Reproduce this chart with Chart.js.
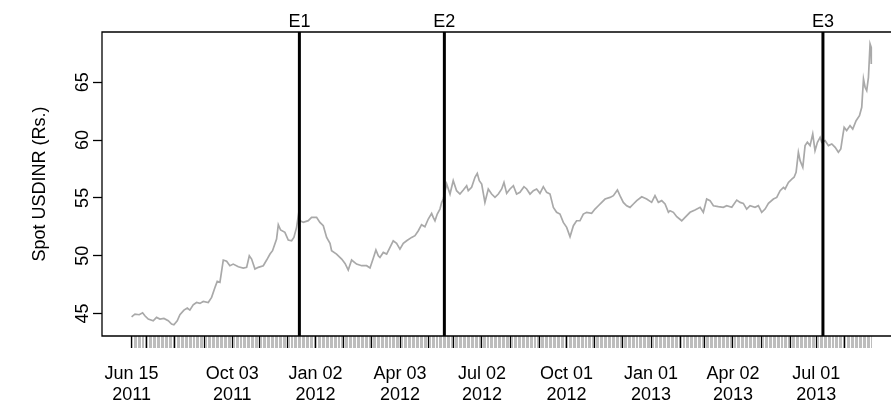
<!DOCTYPE html>
<html lang="en">
  <head>
    <meta charset="UTF-8" />
    <script src="https://cdn.jsdelivr.net/npm/chart.js@4.4.0/dist/chart.umd.min.js"></script>
    <title>USDINR spot</title>
    <style>
      body {
        margin: 0;
        padding: 0;
        background: #fff;
      }
      .wrap {
        position: relative;
        width: 891px;
        height: 408px;
      }
    </style>
  </head>
  <body>
    <div class="wrap">
      <canvas id="spotChart"></canvas>
    </div>
    <script>
      const obsIndex = [
        0, 2.5, 5.7, 8.2, 9.9, 12.4, 16.1, 18.6, 21.1, 24.1, 27.3, 29.8, 31.5, 34.0, 36.0, 39.0,
        41.5, 43.4, 45.9, 48.4, 50.9, 53.4, 57.1, 59.6, 62.1, 63.8, 65.8, 68.3, 70.8, 73.2, 75.7,
        79.5, 83.2, 85.7, 87.7, 89.4, 91.9, 94.4, 98.1, 100.6, 103.1, 105.0, 108.0, 109.3, 111.0,
        114.2, 116.7, 119.2, 120.9, 122.9, 124.2, 125.4, 127.9, 131.6, 134.1, 137.8, 140.3, 142.8,
        145.3, 147.8, 149.0, 152.7, 156.5, 159.0, 161.4, 163.9, 167.6, 171.4, 175.1, 177.6, 180.1,
        182.0, 183.8, 185.0, 187.5, 190.0, 192.5, 194.9, 197.4, 199.9, 202.4, 204.9, 208.6, 211.1,
        213.6, 216.0, 218.5, 221.0, 223.5, 224.7, 226.0, 227.7, 229.7, 231.0, 232.2, 234.7, 237.2,
        239.6, 242.1, 244.6, 247.1, 249.6, 250.8, 253.3, 255.8, 257.5, 259.0, 260.8, 263.2, 265.7,
        268.2, 270.7, 273.2, 275.7, 277.4, 279.4, 281.9, 284.4, 286.8, 289.3, 292.3, 294.3, 296.8,
        299.3, 301.7, 304.2, 306.7, 309.2, 311.7, 314.2, 316.6, 319.1, 321.6, 324.1, 326.6, 329.1,
        331.5, 334.0, 336.5, 339.0, 342.7, 345.2, 347.7, 350.2, 352.7, 356.4, 358.9, 361.9, 363.8,
        366.3, 368.8, 371.3, 373.8, 376.3, 380.0, 383.7, 387.4, 389.9, 392.4, 394.9, 397.4, 399.9,
        401.1, 403.6, 406.1, 409.8, 412.3, 416.0, 419.7, 423.5, 425.9, 428.4, 430.9, 433.4, 437.1,
        440.8, 443.3, 447.1, 450.8, 453.3, 455.7, 458.2, 460.7, 464.4, 466.9, 469.4, 471.9, 474.4,
        478.1, 480.6, 483.1, 485.6, 486.8, 489.3, 491.8, 493.5, 495.0, 496.7, 498.0, 500.0, 501.7,
        503.4, 505.4, 507.4, 509.1, 510.9, 512.9, 514.1, 516.6, 519.1, 521.6, 524.1, 526.5, 528.3,
        529.8, 530.8, 532.7, 535.2, 537.2, 539.7, 542.2, 543.9, 545.2, 546.4, 547.6, 548.9, 550.1,
        550.9, 551.0
      ]
      const spotRate = [
        44.71, 44.94, 44.89, 45.06, 44.80, 44.51, 44.37, 44.66, 44.51, 44.57, 44.37, 44.08, 44.02,
        44.37, 44.89, 45.29, 45.47, 45.29, 45.75, 45.95, 45.87, 46.04, 45.95, 46.39, 47.25, 47.77,
        47.69, 49.62, 49.51, 49.13, 49.27, 49.04, 48.93, 48.99, 49.99, 49.71, 48.84, 48.99, 49.13,
        49.62, 50.14, 50.43, 51.44, 52.68, 52.22, 52.02, 51.35, 51.29, 51.58, 52.45, 53.46, 53.03,
        52.88, 53.03, 53.32, 53.32, 52.88, 52.59, 51.58, 51.06, 50.43, 50.14, 49.71, 49.33, 48.75,
        49.62, 49.27, 49.13, 49.13, 48.93, 49.79, 50.49, 49.99, 49.85, 50.28, 50.14, 50.72, 51.29,
        51.06, 50.57, 51.06, 51.29, 51.58, 51.73, 52.16, 52.68, 52.50, 53.17, 53.66, 53.31, 53.02,
        53.60, 54.03, 54.61, 54.90, 56.20, 55.33, 56.49, 55.62, 55.33, 55.68, 56.05, 55.62, 55.91,
        56.78, 57.12, 56.49, 56.20, 54.61, 55.77, 55.33, 55.04, 55.33, 55.77, 56.34, 55.39, 55.77,
        56.05, 55.33, 55.48, 55.97, 55.77, 55.33, 55.62, 55.77, 55.39, 55.97, 55.48, 55.33, 54.18,
        53.75, 53.60, 52.88, 52.45, 51.64, 52.59, 53.02, 53.02, 53.60, 53.75, 53.66, 54.03, 54.32,
        54.61, 54.90, 55.04, 55.19, 55.68, 55.19, 54.61, 54.32, 54.18, 54.47, 54.76, 55.10, 54.90,
        54.61, 55.19, 54.61, 54.76, 54.47, 53.75, 53.89, 53.75, 53.37, 53.02, 53.31, 53.75, 53.95,
        54.18, 53.75, 54.90, 54.76, 54.32, 54.24, 54.18, 54.32, 54.18, 54.81, 54.61, 54.52, 54.03,
        54.32, 54.18, 54.32, 53.75, 54.03, 54.52, 54.90, 55.04, 55.62, 55.91, 55.77, 56.34, 56.63,
        56.78, 57.21, 58.94, 58.22, 57.64, 59.52, 59.81, 59.52, 60.53, 59.08, 59.81, 60.24, 59.81,
        59.95, 59.52, 59.66, 59.37, 58.94, 59.23, 60.38, 61.10, 60.82, 61.25, 60.96, 61.68, 62.11,
        62.84, 65.29, 64.57, 64.28, 65.43, 68.32, 68.03, 66.59
      ]
      const nObs = 552
      // first trading day of each month (black ticks)
      const monthStarts = [
        0, 11, 32, 54, 75, 95, 116, 137, 158, 179, 200, 221, 240, 261, 282, 304, 324, 345, 366,
        387, 409, 427, 448, 469, 491, 510, 531
      ]
      const labelIdx = [0, 75, 137, 200, 261, 324, 387, 448, 510]
      const labelText = [
        ['Jun 15', '2011'], ['Oct 03', '2011'], ['Jan 02', '2012'], ['Apr 03', '2012'],
        ['Jul 02', '2012'], ['Oct 01', '2012'], ['Jan 01', '2013'], ['Apr 02', '2013'],
        ['Jul 01', '2013']
      ]
      const yTicks = [45, 50, 55, 60, 65]
      const eventIdx = [125, 233, 515]
      const eventNames = ['E1', 'E2', 'E3']

      const FONT_FAMILY = "'Liberation Sans', Arial, sans-serif"
      const FONT_SIZE = 18
      const majorSet = new Set(monthStarts)

      const rAxes = {
        id: 'rAxes',
        afterDatasetsDraw(chart) {
          const { ctx, chartArea: a, scales } = chart
          const x = scales.x
          const y = scales.y
          ctx.save()
          ctx.strokeStyle = '#000'
          ctx.fillStyle = '#000'

          // event lines + names
          ctx.lineWidth = 3
          ctx.font = FONT_SIZE + 'px ' + FONT_FAMILY
          ctx.textAlign = 'center'
          ctx.textBaseline = 'alphabetic'
          eventIdx.forEach((v, i) => {
            const px = x.getPixelForValue(v)
            ctx.beginPath()
            ctx.moveTo(px, a.top)
            ctx.lineTo(px, a.bottom)
            ctx.stroke()
            ctx.fillText(eventNames[i], px, 27)
          })

          // plot box (right side falls outside the picture)
          ctx.lineWidth = 1.3
          ctx.beginPath()
          ctx.moveTo(a.right + 2, a.top)
          ctx.lineTo(a.left, a.top)
          ctx.lineTo(a.left, a.bottom)
          ctx.lineTo(a.right + 2, a.bottom)
          ctx.stroke()

          // y tick labels, parallel to the axis
          yTicks.forEach((v) => {
            ctx.save()
            ctx.translate(88, y.getPixelForValue(v))
            ctx.rotate(-Math.PI / 2)
            ctx.fillText(String(v), 0, 0)
            ctx.restore()
          })

          ctx.save()
          ctx.translate(45, (a.top + a.bottom) / 2)
          ctx.rotate(-Math.PI / 2)
          ctx.fillText('Spot USDINR (Rs.)', 0, 0)
          ctx.restore()

          ctx.restore()
        },
      }

      new Chart(document.getElementById('spotChart'), {
        type: 'line',
        data: {
          datasets: [
            {
              data: obsIndex.map((t, i) => ({ x: t, y: spotRate[i] })),
              borderColor: '#a9a9a9',
              borderWidth: 1.7,
              pointRadius: 0,
              tension: 0,
              fill: false,
            },
          ],
        },
        options: {
          responsive: true,
          maintainAspectRatio: false,
          animation: false,
          layout: { padding: { top: 32, left: 0, right: 0, bottom: 0 } },
          plugins: {
            legend: { display: false },
            tooltip: { enabled: false },
          },
          scales: {
            x: {
              type: 'linear',
              min: -22.04,
              max: 565.7,
              afterBuildTicks: (s) => {
                s.ticks = Array.from({ length: nObs }, (_, i) => ({ value: i }))
              },
              afterFit: (s) => {
                s.height = 72
              },
              border: { display: false },
              grid: {
                drawOnChartArea: false,
                drawTicks: true,
                tickLength: 12,
                tickColor: (c) => (majorSet.has(c.tick && c.tick.value) ? '#000' : '#bdbdbd'),
                tickWidth: (c) => (majorSet.has(c.tick && c.tick.value) ? 1.3 : 1),
              },
              ticks: {
                autoSkip: false,
                maxRotation: 0,
                minRotation: 0,
                padding: 15,
                color: '#000',
                font: { family: FONT_FAMILY, size: FONT_SIZE, lineHeight: 1.2 },
                callback: (v) => {
                  const k = labelIdx.indexOf(v)
                  return k >= 0 ? labelText[k] : ''
                },
              },
            },
            y: {
              type: 'linear',
              min: 43.05,
              max: 69.35,
              afterBuildTicks: (s) => {
                s.ticks = yTicks.map((v) => ({ value: v }))
              },
              afterFit: (s) => {
                s.width = 102
              },
              border: { display: false },
              grid: {
                drawOnChartArea: false,
                drawTicks: true,
                tickLength: 9,
                tickColor: '#000',
                tickWidth: 1.3,
              },
              ticks: { display: false },
            },
          },
        },
        plugins: [rAxes],
      })
    </script>
  </body>
</html>
